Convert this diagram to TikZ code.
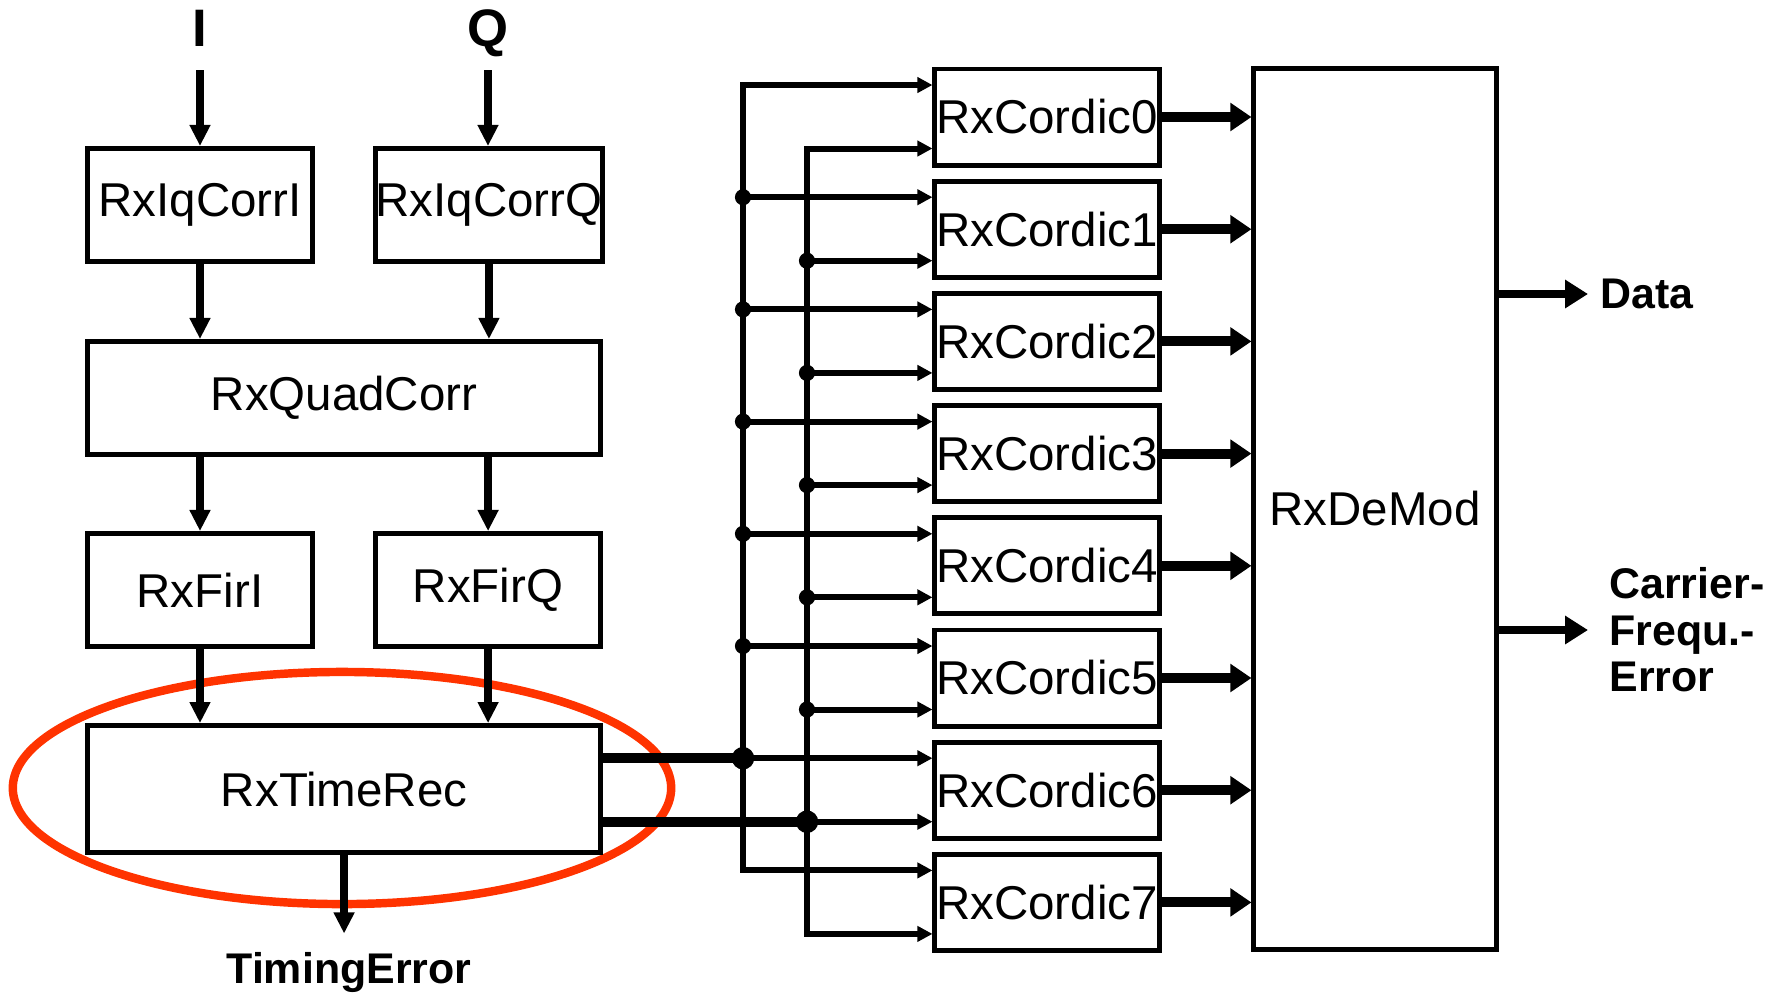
\documentclass[tikz,border=0pt]{standalone}
\usepackage{fontspec}
\setmainfont{Liberation Sans}
\usepackage{tikz}
\usetikzlibrary{positioning,arrows.meta,calc}
\definecolor{markred}{RGB}{255,51,0}

\begin{document}
\begin{tikzpicture}[
  x=0.01cm, y=-0.01cm,
  every node/.style={font=\fontsize{13.5}{15}\selectfont},
  blk/.style  ={draw, line width=1.4pt, inner sep=0pt,
                minimum width=2.25cm, minimum height=1.13cm},
  wide/.style ={minimum width=5.13cm},
  cord/.style ={draw, line width=1.4pt, inner sep=0pt,
                minimum width=2.24cm, minimum height=0.96cm},
  sig/.style  ={font=\fontsize{12.2}{13.2}\selectfont\bfseries, align=left},
  iolbl/.style={font=\fontsize{15}{17}\selectfont\bfseries, anchor=base},
  varr/.style ={line width=2.1pt, -{Triangle[length=6pt,width=5.6pt]}},
  thn/.style  ={line width=1.7pt, -{Triangle[length=4.3pt,width=4.3pt]}},
  bus/.style  ={line width=1.7pt, line join=miter,
                {Triangle[length=4.3pt,width=4.3pt]}-{Triangle[length=4.3pt,width=4.3pt]}},
  thk/.style  ={line width=2.8pt, -{Triangle[length=6pt,width=7.7pt]}},
  oarr/.style ={line width=2.3pt, -{Triangle[length=6.5pt,width=7.7pt]}},
  tline/.style={line width=2.8pt}
]
\useasboundingbox (0,0) rectangle (1778,993);

%% --- highlight round the timing recovery ---------------------
\draw[line width=2.4pt, markred] (342,788) ellipse [x radius=3.29cm, y radius=1.16cm];

%% --- I/Q front end (left) ------------------------------------
\node[iolbl] (lblI) at (200,46) {I};
\node[iolbl] (lblQ) at (488,46) {Q};
\coordinate (inI) at (200,70);
\coordinate (inQ) at (488,70);

\node[blk] (iqI) at (200,205) {RxIqCorrI};
\node[blk, right=0.58cm of iqI] (iqQ) {RxIqCorrQ};
\node[blk, wide, below=0.75cm of iqI.south west, anchor=north west] (quad) {RxQuadCorr};
\node[blk, below=0.74cm of quad.south west, anchor=north west] (firI) {RxFirI};
\node[blk, right=0.58cm of firI] (firQ) {RxFirQ};
\node[blk, wide, minimum height=1.27cm, below=0.74cm of firI.south west,
      anchor=north west] (trec) {RxTimeRec};
\node[sig] (terr) at (349,972) {TimingError};
\coordinate (terrtop) at ([yshift=1.7pt]terr.north);

\draw[varr] (inI) -- (inI |- iqI.north);
\draw[varr] (inQ) -- (inQ |- iqQ.north);
\draw[varr] (iqI) -- (iqI |- quad.north);
\draw[varr] (iqQ) -- (iqQ |- quad.north);
\draw[varr] (firI |- quad.south) -- (firI);
\draw[varr] (firQ |- quad.south) -- (firQ);
\draw[varr] (firI) -- (firI |- trec.north);
\draw[varr] (firQ) -- (firQ |- trec.north);
\draw[varr] (trec.south) -- (trec.south |- terrtop);

%% --- demodulator and outputs (right) -------------------------
\node[cord, minimum width=2.42cm, minimum height=8.8cm] (demod) at (1375,509) {RxDeMod};
\node[sig, anchor=west] (data) at (1588,294) {Data};
\node[sig, anchor=west] (cfe) at (1597,630) {Carrier-\\Frequ.-\\Error};
\draw[oarr] (demod.east |- data) -- (data.west);
\draw[oarr] (demod.east |- cfe) -- (cfe.west -| data.west);

%% --- Cordic bank ---------------------------------------------
\foreach \k in {0,...,7}{
  \node[cord] (cor\k) at (1047,117+112.2*\k) {RxCordic\k};
  \coordinate (ua\k) at ($(cor\k.west)+(0,-32)$);
  \coordinate (ub\k) at ($(cor\k.west)+(0,31.5)$);
  \draw[thk] (cor\k) -- (cor\k -| demod.west);
}

%% --- distribution buses --------------------------------------
\coordinate (bus1) at (743,0);
\coordinate (bus2) at (807,0);
\draw[bus] (ua0) -- (ua0 -| bus1) -- (ua7 -| bus1) -- (ua7);
\draw[bus] (ub0) -- (ub0 -| bus2) -- (ub7 -| bus2) -- (ub7);
\foreach \k in {1,...,6}{
  \draw[thn] (ua\k -| bus1) -- (ua\k);
  \draw[thn] (ub\k -| bus2) -- (ub\k);
}
\foreach \k in {1,...,5}{
  \fill (ua\k -| bus1) circle (2.3pt);
  \fill (ub\k -| bus2) circle (2.3pt);
}
% RxTimeRec feeds both buses
\draw[tline] (trec.east |- ua6) -- (ua6 -| bus1);
\draw[tline] (trec.east |- ub6) -- (ub6 -| bus2);
\fill (ua6 -| bus1) circle (3.2pt);
\fill (ub6 -| bus2) circle (3.2pt);

\end{tikzpicture}
\end{document}
